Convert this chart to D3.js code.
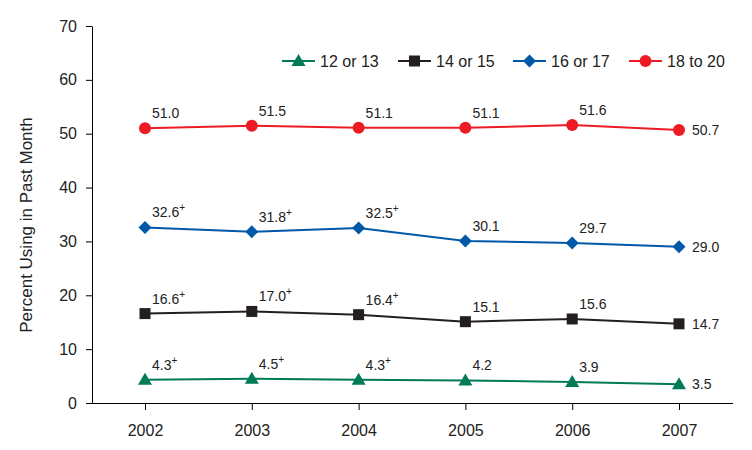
<!DOCTYPE html>
<html><head><meta charset="utf-8">
<script src="https://cdn.jsdelivr.net/npm/d3@7"></script>
<style>body{margin:0;background:#fff}svg{display:block;font-family:"Liberation Sans",Arial,sans-serif}</style>
</head><body><svg id="c" width="752" height="450"></svg>
<script>
const years = ["2002","2003","2004","2005","2006","2007"];
const yTicks = [0,10,20,30,40,50,60,70];
const seriesNames = ["12 or 13","14 or 15","16 or 17","18 to 20"];
const v12 = [4.3,4.5,4.3,4.2,3.9,3.5];
const v14 = [16.6,17.0,16.4,15.1,15.6,14.7];
const v16 = [32.6,31.8,32.5,30.1,29.7,29.0];
const v18 = [51.0,51.5,51.1,51.1,51.6,50.7];
const sig12 = [true,true,true,false,false,false];
const sig14 = [true,true,true,false,false,false];
const sig16 = [true,true,true,false,false,false];
const sig18 = [false,false,false,false,false,false];
const colors = ["#007a57","#231f20","#0059a8","#ed1c24"];

const series = [
  {name:seriesNames[0],vals:v12,sig:sig12},
  {name:seriesNames[1],vals:v14,sig:sig14},
  {name:seriesNames[2],vals:v16,sig:sig16},
  {name:seriesNames[3],vals:v18,sig:sig18}
];

function marker(sel, si){
  if(si===0) sel.append("path").attr("d","M0,-7L7,5L-7,5Z");
  else if(si===1) sel.append("rect").attr("x",-5.5).attr("y",-5.5).attr("width",11).attr("height",11);
  else if(si===2) sel.append("path").attr("d","M0,-6.5L6.5,0L0,6.5L-6.5,0Z");
  else sel.append("circle").attr("r",6);
}

const svg = d3.select("#c");
const x = d3.scalePoint().domain(years).range([145,679]);
const y = d3.scaleLinear().domain([0,70]).range([403,26]);
const font = "Liberation Sans, Arial, sans-serif";

// y axis
const ya = svg.append("g").attr("transform","translate(92,0)")
  .call(d3.axisLeft(y).tickValues(yTicks).tickSize(6).tickPadding(9).tickSizeOuter(0));
ya.select(".domain").attr("stroke","#000");
ya.selectAll("text").attr("font-size",16).attr("fill","#222").style("font-family",font);
ya.selectAll("line").attr("stroke","#000");

// x axis
const xa = svg.append("g").attr("transform","translate(0,403)")
  .call(d3.axisBottom(x).tickSize(7).tickPadding(15).tickSizeOuter(0));
xa.select(".domain").remove();
xa.append("line").attr("x1",92).attr("x2",733).attr("y1",0.5).attr("y2",0.5).attr("stroke","#000");
xa.selectAll("text").attr("font-size",16).attr("fill","#222").style("font-family",font);
xa.selectAll(".tick line").attr("stroke","#000");

svg.append("text").attr("transform","translate(32,225) rotate(-90)")
  .attr("text-anchor","middle").attr("font-size",17).attr("fill","#222")
  .text("Percent Using in Past Month");

const line = d3.line().x((d,i)=>x(years[i])).y(d=>y(d));

series.forEach((s,si)=>{
  const g = svg.append("g");
  g.append("path").attr("d",line(s.vals)).attr("fill","none")
    .attr("stroke",colors[si]).attr("stroke-width",2);
  s.vals.forEach((d,i)=>{
    const m = g.append("g").attr("transform",`translate(${x(years[i])},${y(d)})`).attr("fill",colors[si]);
    marker(m, si);
  });
  g.selectAll("text").data(s.vals).enter().append("text")
    .attr("x",(d,i)=>x(years[i]) + (i===5 ? 13 : 7))
    .attr("y",(d,i)=>y(d) + (i===5 ? 5 : -10))
    .attr("font-size",14).attr("fill","#222")
    .each(function(d,i){
      const t = d3.select(this);
      t.append("tspan").text(d.toFixed(1));
      if(s.sig[i]) t.append("tspan").attr("dy",-6).attr("font-size",10).text("+");
    });
});

// legend
const lx = [282,398,513,629];
series.forEach((s,si)=>{
  const g = svg.append("g").attr("transform",`translate(${lx[si]},61)`);
  g.append("line").attr("x1",0).attr("x2",33).attr("stroke",colors[si]).attr("stroke-width",2);
  const m = g.append("g").attr("transform","translate(16.5,0)").attr("fill",colors[si]);
  marker(m, si);
  g.append("text").attr("x",38).attr("y",6).attr("font-size",16).attr("fill","#222").text(s.name);
});
</script></body></html>
